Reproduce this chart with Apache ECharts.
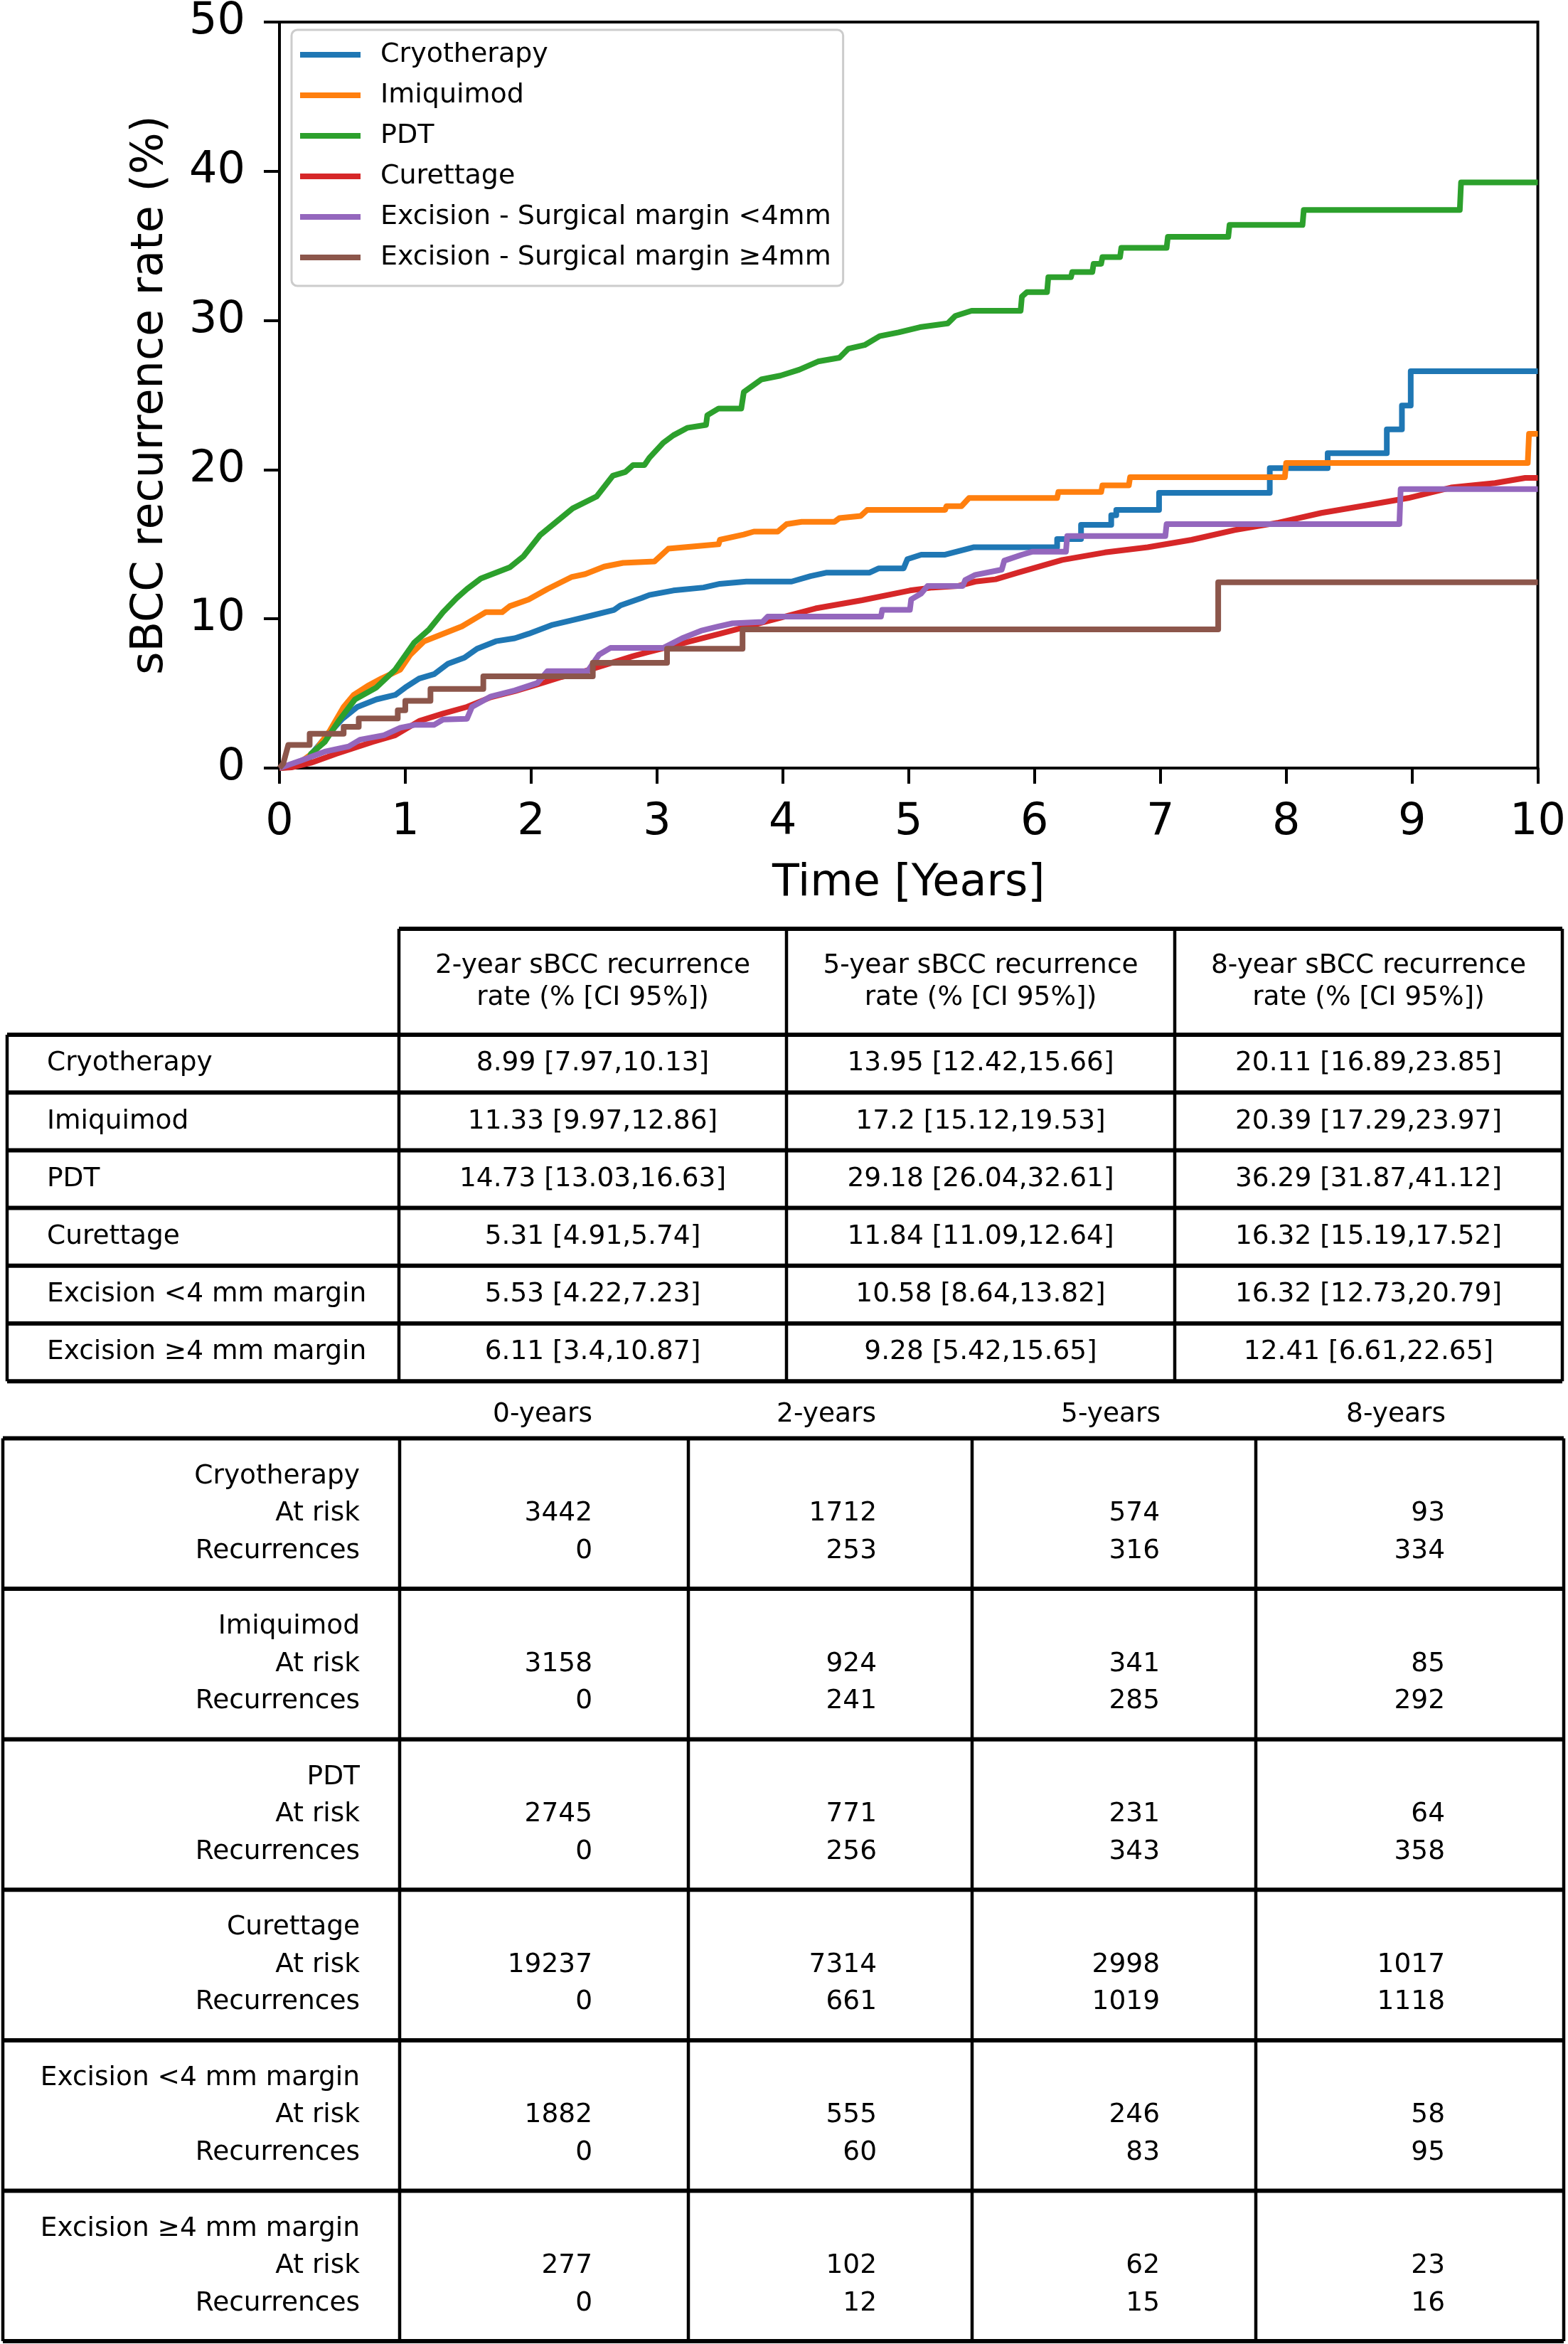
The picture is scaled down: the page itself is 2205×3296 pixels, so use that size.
<!DOCTYPE html>
<html><head><meta charset="utf-8">
<script src="https://cdn.jsdelivr.net/npm/echarts@6/dist/echarts.min.js"></script>
<style>html,body{margin:0;padding:0;background:#fff}#c{width:2205px;height:3296px}</style>
</head><body><div id="c"></div>
<script>
// ---------- DATA ----------
const seriesNames = ['Cryotherapy', 'Imiquimod', 'PDT', 'Curettage',
  'Excision - Surgical margin <4mm', 'Excision - Surgical margin \u22654mm'];
const xTicks = [0, 10, 1];   // min, max, step (years)
const yTicks = [0, 50, 10];  // min, max, step (%)

const cryotherapy = [[0,0],[0.12,0.1],[0.23,0.7],[0.35,1.9],[0.5,3.3],[0.62,4.1],[0.77,4.6],[0.92,4.9],[1.0,5.4],[1.11,6.0],[1.23,6.3],[1.34,7.0],[1.47,7.4],[1.57,8.0],[1.72,8.5],[1.87,8.7],[1.98,9.0],[2.17,9.6],[2.32,9.9],[2.47,10.2],[2.66,10.6],[2.71,10.9],[2.88,11.4],[2.94,11.6],[3.13,11.9],[3.37,12.1],[3.5,12.35],[3.71,12.5],[4.07,12.5],[4.22,12.86],[4.35,13.1],[4.69,13.1],[4.76,13.38],[4.96,13.38],[4.99,14.0],[5.1,14.3],[5.29,14.3],[5.52,14.8],[6.18,14.8],[6.18,15.35],[6.37,15.35],[6.37,16.3],[6.61,16.3],[6.61,16.95],[6.65,16.95],[6.65,17.3],[6.99,17.3],[6.99,18.45],[7.87,18.45],[7.87,20.1],[8.33,20.1],[8.33,21.1],[8.8,21.1],[8.8,22.7],[8.92,22.7],[8.92,24.3],[8.99,24.3],[8.99,26.6],[10,26.6]];
const imiquimod = [[0,0],[0.15,0.3],[0.28,1.1],[0.4,2.5],[0.51,4.1],[0.59,4.9],[0.7,5.5],[0.81,6.0],[0.96,6.6],[1.04,7.6],[1.15,8.5],[1.3,9.0],[1.45,9.5],[1.57,10.1],[1.64,10.45],[1.77,10.45],[1.83,10.85],[1.98,11.3],[2.13,12.0],[2.32,12.8],[2.43,13.0],[2.58,13.5],[2.73,13.75],[2.98,13.85],[3.09,14.7],[3.49,15.0],[3.5,15.3],[3.69,15.65],[3.77,15.85],[3.96,15.85],[4.03,16.35],[4.15,16.5],[4.41,16.5],[4.45,16.75],[4.62,16.9],[4.67,17.3],[5.29,17.3],[5.3,17.55],[5.42,17.55],[5.48,18.1],[6.18,18.1],[6.19,18.5],[6.53,18.5],[6.54,18.95],[6.75,18.95],[6.76,19.5],[7.99,19.5],[8.0,20.45],[9.92,20.45],[9.93,22.4],[10,22.4]];
const pdt = [[0,0],[0.15,0.2],[0.23,0.5],[0.25,0.95],[0.36,1.75],[0.47,3.15],[0.6,4.6],[0.77,5.4],[0.92,6.6],[1.07,8.4],[1.19,9.3],[1.3,10.45],[1.41,11.4],[1.49,12.0],[1.6,12.7],[1.83,13.45],[1.94,14.2],[2.07,15.6],[2.33,17.4],[2.52,18.2],[2.65,19.6],[2.75,19.85],[2.81,20.3],[2.9,20.3],[2.94,20.8],[3.05,21.8],[3.13,22.3],[3.24,22.8],[3.39,23.0],[3.4,23.65],[3.49,24.1],[3.67,24.1],[3.69,25.2],[3.83,26.05],[3.98,26.3],[4.13,26.7],[4.28,27.25],[4.45,27.5],[4.52,28.1],[4.65,28.35],[4.77,28.95],[4.92,29.2],[5.09,29.55],[5.31,29.8],[5.37,30.3],[5.5,30.65],[5.89,30.65],[5.9,31.6],[5.94,31.9],[6.1,31.9],[6.11,32.9],[6.29,32.9],[6.3,33.25],[6.46,33.25],[6.47,33.8],[6.53,33.8],[6.54,34.25],[6.68,34.25],[6.69,34.87],[7.05,34.87],[7.06,35.6],[7.54,35.6],[7.55,36.4],[8.13,36.4],[8.14,37.4],[9.38,37.4],[9.39,39.25],[10,39.25]];
const curettage = [[0,0],[0.1,0.05],[0.25,0.35],[0.45,0.95],[0.74,1.75],[0.92,2.2],[1.11,3.15],[1.3,3.65],[1.49,4.1],[1.68,4.75],[1.87,5.15],[2.05,5.6],[2.24,6.1],[2.43,6.5],[2.62,7.0],[2.81,7.5],[2.92,7.75],[3.13,8.2],[3.5,9.0],[3.88,9.85],[4.26,10.7],[4.63,11.25],[5.01,11.9],[5.19,12.1],[5.39,12.2],[5.53,12.5],[5.69,12.65],[5.87,13.1],[6.22,13.95],[6.56,14.45],[6.9,14.8],[7.25,15.3],[7.59,15.95],[7.94,16.45],[8.28,17.1],[8.63,17.6],[8.97,18.1],[9.31,18.8],[9.66,19.1],[9.9,19.45],[10,19.45]];
const excisionUnder4 = [[0,0],[0.17,0.5],[0.36,1.1],[0.55,1.45],[0.64,1.9],[0.83,2.2],[0.96,2.7],[1.08,2.9],[1.23,2.9],[1.3,3.25],[1.49,3.3],[1.53,4.1],[1.68,4.8],[1.87,5.2],[2.05,5.7],[2.13,6.5],[2.45,6.5],[2.54,7.6],[2.63,8.05],[3.05,8.05],[3.2,8.7],[3.35,9.2],[3.47,9.45],[3.6,9.7],[3.84,9.8],[3.88,10.15],[4.78,10.15],[4.79,10.6],[5.01,10.6],[5.02,11.3],[5.1,11.7],[5.15,12.2],[5.43,12.2],[5.45,12.6],[5.53,12.95],[5.74,13.3],[5.76,13.9],[5.9,14.3],[5.98,14.5],[6.25,14.5],[6.26,15.55],[7.04,15.55],[7.05,16.35],[8.9,16.35],[8.91,18.7],[10,18.7]];
const excisionOver4 = [[0,0],[0.03,0.3],[0.07,1.55],[0.24,1.55],[0.24,2.3],[0.51,2.3],[0.51,2.77],[0.63,2.77],[0.63,3.32],[0.94,3.32],[0.94,3.87],[1.0,3.87],[1.0,4.5],[1.2,4.5],[1.2,5.3],[1.62,5.3],[1.62,6.15],[2.49,6.15],[2.49,7.05],[3.08,7.05],[3.08,8.0],[3.68,8.0],[3.68,9.3],[7.46,9.3],[7.46,12.45],[10,12.45]];

// Table 1: recurrence rates
const rateHeaders = ['2-year sBCC recurrence\nrate (% [CI 95%])', '5-year sBCC recurrence\nrate (% [CI 95%])', '8-year sBCC recurrence\nrate (% [CI 95%])'];
const rateRows = ['Cryotherapy', 'Imiquimod', 'PDT', 'Curettage', 'Excision <4 mm margin', 'Excision \u22654 mm margin'];
const rate2y = ['8.99 [7.97,10.13]', '11.33 [9.97,12.86]', '14.73 [13.03,16.63]', '5.31 [4.91,5.74]', '5.53 [4.22,7.23]', '6.11 [3.4,10.87]'];
const rate5y = ['13.95 [12.42,15.66]', '17.2 [15.12,19.53]', '29.18 [26.04,32.61]', '11.84 [11.09,12.64]', '10.58 [8.64,13.82]', '9.28 [5.42,15.65]'];
const rate8y = ['20.11 [16.89,23.85]', '20.39 [17.29,23.97]', '36.29 [31.87,41.12]', '16.32 [15.19,17.52]', '16.32 [12.73,20.79]', '12.41 [6.61,22.65]'];

// Table 2: numbers at risk
const riskHeaders = ['0-years', '2-years', '5-years', '8-years'];
const riskGroups = ['Cryotherapy', 'Imiquimod', 'PDT', 'Curettage', 'Excision <4 mm margin', 'Excision \u22654 mm margin'];
const atRiskCryo = [3442, 1712, 574, 93];
const atRiskImiq = [3158, 924, 341, 85];
const atRiskPdt = [2745, 771, 231, 64];
const atRiskCur = [19237, 7314, 2998, 1017];
const atRiskExcU = [1882, 555, 246, 58];
const atRiskExcO = [277, 102, 62, 23];
const recCryo = [0, 253, 316, 334];
const recImiq = [0, 241, 285, 292];
const recPdt = [0, 256, 343, 358];
const recCur = [0, 661, 1019, 1118];
const recExcU = [0, 60, 83, 95];
const recExcO = [0, 12, 15, 16];

// ---------- LAYOUT / STYLE ----------
const FONT = 'DejaVu Sans';
const colors = ['#1f77b4', '#ff7f0e', '#2ca02c', '#d62728', '#9467bd', '#8c564b'];
const curves = [cryotherapy, imiquimod, pdt, curettage, excisionUnder4, excisionOver4];
const atRisk = [atRiskCryo, atRiskImiq, atRiskPdt, atRiskCur, atRiskExcU, atRiskExcO];
const recs = [recCryo, recImiq, recPdt, recCur, recExcU, recExcO];

const graphics = [];
function hline(x1, x2, y, w) { graphics.push({type:'line', shape:{x1:x1, y1:y, x2:x2, y2:y}, style:{stroke:'#000', lineWidth:w}, z:10}); }
function vline(x, y1, y2, w) { graphics.push({type:'line', shape:{x1:x, y1:y1, x2:x, y2:y2}, style:{stroke:'#000', lineWidth:w}, z:10}); }
function txt(s, x, y, align, lh) {
  graphics.push({type:'text', x:x, y:y, z:11, style:{text:s, fontFamily:FONT, fontSize:37.5, fill:'#000',
    align:align, verticalAlign:'middle', lineHeight:lh || 45}});
}

// Table 1 geometry
const t1Cols = [10, 561, 1106, 1652, 2197];
const t1HeadTop = 1306, t1HeadBot = 1455, t1RowH = 81.2;
const HW = 6, VW = 4.5;
hline(t1Cols[1], t1Cols[4], t1HeadTop, HW);
for (let r = 0; r <= rateRows.length; r++) hline(t1Cols[0], t1Cols[4], t1HeadBot + r * t1RowH, HW);
const t1Bot = t1HeadBot + rateRows.length * t1RowH;
vline(t1Cols[0], t1HeadBot, t1Bot, VW);
for (let c = 1; c < t1Cols.length; c++) vline(t1Cols[c], t1HeadTop, t1Bot, VW);
rateHeaders.forEach((h, i) => txt(h, (t1Cols[i + 1] + t1Cols[i + 2]) / 2, (t1HeadTop + t1HeadBot) / 2, 'center'));
const rateCols = [rate2y, rate5y, rate8y];
rateRows.forEach((name, r) => {
  const cy = t1HeadBot + (r + 0.5) * t1RowH;
  txt(name, 66, cy, 'left');
  rateCols.forEach((col, i) => txt(col[r], (t1Cols[i + 1] + t1Cols[i + 2]) / 2, cy, 'center'));
});

// Table 2 geometry
const t2Cols = [4, 562, 968, 1367, 1766, 2199];
const t2HeadX = [763, 1162, 1562, 1963];
const t2NumX = [833, 1233, 1631, 2032];
const t2Top = 2022.5, t2RowH = 211.6, t2LineGap = 52.5;
riskHeaders.forEach((h, i) => txt(h, t2HeadX[i], 1989, 'center'));
for (let r = 0; r <= riskGroups.length; r++) hline(t2Cols[0], t2Cols[5], t2Top + r * t2RowH, HW);
const t2Bot = t2Top + riskGroups.length * t2RowH;
t2Cols.forEach(x => vline(x, t2Top, t2Bot, VW));
riskGroups.forEach((g, r) => {
  const cy = t2Top + (r + 0.5) * t2RowH;
  txt(g, 506, cy - t2LineGap, 'right');
  txt('At risk', 506, cy, 'right');
  txt('Recurrences', 506, cy + t2LineGap, 'right');
  for (let i = 0; i < 4; i++) {
    txt(String(atRisk[r][i]), t2NumX[i], cy, 'right');
    txt(String(recs[r][i]), t2NumX[i], cy + t2LineGap, 'right');
  }
});

const axisText = {fontFamily: FONT, fontSize: 62, color: '#000'};
const option = {
  animation: false,
  backgroundColor: '#fff',
  grid: {left: 393, top: 26, width: 1770, height: 1054, show: true, borderColor: '#000', borderWidth: 4, backgroundColor: 'transparent'},
  legend: {
    orient: 'vertical', left: 410, top: 42, data: seriesNames,
    icon: 'rect', itemWidth: 85, itemHeight: 8, itemGap: 11,
    padding: [12, 17, 17, 12],
    backgroundColor: 'rgba(255,255,255,0.8)', borderColor: '#cccccc', borderWidth: 3, borderRadius: 8,
    textStyle: {fontFamily: FONT, fontSize: 38, color: '#000', lineHeight: 46, padding: [0, 0, 0, 23]}
  },
  xAxis: {
    type: 'value', min: xTicks[0], max: xTicks[1], interval: xTicks[2],
    name: 'Time [Years]', nameLocation: 'middle', nameGap: 132, nameTextStyle: axisText,
    axisLine: {show: true, onZero: false, lineStyle: {color: '#000', width: 4}},
    axisTick: {show: true, length: 22, lineStyle: {color: '#000', width: 4}},
    axisLabel: Object.assign({margin: 46}, axisText),
    splitLine: {show: false}
  },
  yAxis: {
    type: 'value', min: yTicks[0], max: yTicks[1], interval: yTicks[2],
    name: 'sBCC recurrence rate (%)', nameLocation: 'middle', nameGap: 150, nameTextStyle: axisText,
    axisLine: {show: true, onZero: false, lineStyle: {color: '#000', width: 4}},
    axisTick: {show: true, length: 22, lineStyle: {color: '#000', width: 4}},
    axisLabel: Object.assign({margin: 48}, axisText),
    splitLine: {show: false}
  },
  series: curves.map((d, i) => ({
    name: seriesNames[i], type: 'line', data: d, symbol: 'none', showSymbol: false,
    lineStyle: {color: colors[i], width: 8, join: 'round', cap: 'butt'},
    itemStyle: {color: colors[i]}, z: 2 + i
  })),
  graphic: graphics
};
const chart = echarts.init(document.getElementById('c'), null, {renderer: 'canvas'});
chart.setOption(option);
</script></body></html>
